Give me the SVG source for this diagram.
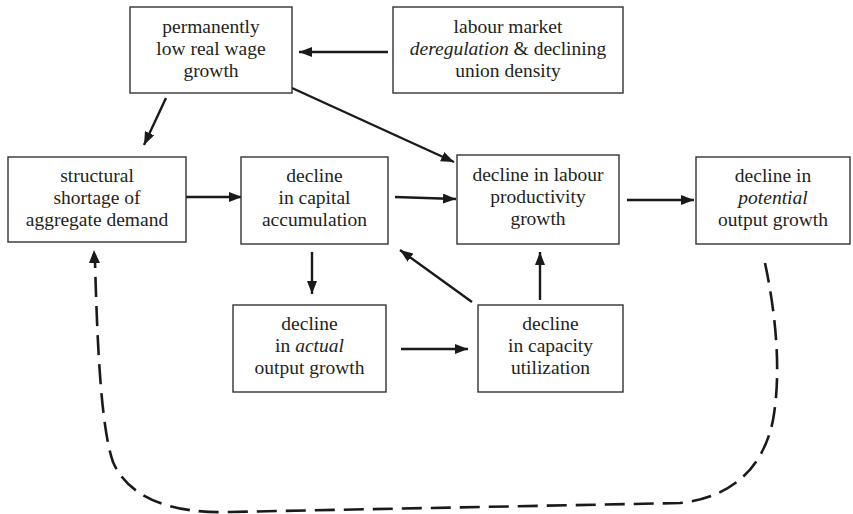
<svg xmlns="http://www.w3.org/2000/svg" width="853" height="514" viewBox="0 0 853 514">
<style>
  .box { fill: #fff; stroke: #333; stroke-width: 1.4; }
  .t { font-family: "Liberation Serif", "Times New Roman", serif; font-size: 19.5px; fill: #231f20; text-anchor: middle; }
  .i { font-style: italic; }
  .c { stroke: #1a1a1a; stroke-width: 2.4; fill: none; marker-end: url(#ah); }
  .d { stroke: #1a1a1a; stroke-width: 2.6; fill: none; stroke-dasharray: 20 9; }
</style>
<defs>
  <marker id="ah" markerUnits="userSpaceOnUse" markerWidth="14" markerHeight="12" refX="13" refY="5" orient="auto">
    <path d="M0,0 L13,5 L0,10 Z" fill="#1a1a1a"/>
  </marker>
</defs>
<rect width="853" height="514" fill="#fff"/>
<g id="connectors">
  <line class="c" x1="388" y1="52" x2="299" y2="52"/>
  <line class="c" x1="166" y1="98" x2="144" y2="145"/>
  <line class="c" x1="292" y1="88" x2="454" y2="162"/>
  <line class="c" x1="183" y1="197" x2="242" y2="197"/>
  <line class="c" x1="395" y1="197" x2="456" y2="199"/>
  <line class="c" x1="627" y1="200" x2="694" y2="200"/>
  <line class="c" x1="312" y1="252" x2="312" y2="294"/>
  <line class="c" x1="401" y1="349" x2="468" y2="349"/>
  <line class="c" x1="472" y1="302" x2="400" y2="250"/>
  <line class="c" x1="540" y1="300" x2="540" y2="252"/>
  <path class="d" d="M765,263 C775,310 782,370 773,420 C764,465 735,497 680,503 L230,512 C170,514 128,497 113,462 C100,425 97,330 95,262"/>
  <path d="M89,263 L94,250 L100,263 Z" fill="#1a1a1a"/>
</g>
<g id="n1">
  <rect class="box" x="130" y="7" width="162" height="86"/>
  <text class="t" x="211" y="33">permanently</text>
  <text class="t" x="211" y="55">low real wage</text>
  <text class="t" x="211" y="77">growth</text>
</g>
<g id="n2">
  <rect class="box" x="393" y="7" width="230" height="86"/>
  <text class="t" x="508" y="33">labour market</text>
  <text class="t" x="508" y="55"><tspan class="i">deregulation</tspan> &amp; declining</text>
  <text class="t" x="508" y="77">union density</text>
</g>
<g id="n3">
  <rect class="box" x="8" y="157" width="178" height="85"/>
  <text class="t" x="97" y="182">structural</text>
  <text class="t" x="97" y="204">shortage of</text>
  <text class="t" x="97" y="226">aggregate demand</text>
</g>
<g id="n4">
  <rect class="box" x="241" y="157" width="147" height="87"/>
  <text class="t" x="314.5" y="182">decline</text>
  <text class="t" x="314.5" y="204">in capital</text>
  <text class="t" x="314.5" y="226">accumulation</text>
</g>
<g id="n5">
  <rect class="box" x="457" y="155" width="162" height="89"/>
  <text class="t" x="538" y="181">decline in labour</text>
  <text class="t" x="538" y="203">productivity</text>
  <text class="t" x="538" y="225">growth</text>
</g>
<g id="n6">
  <rect class="box" x="696" y="157" width="154" height="87"/>
  <text class="t" x="773" y="182">decline in</text>
  <text class="t i" x="773" y="204">potential</text>
  <text class="t" x="773" y="226">output growth</text>
</g>
<g id="n7">
  <rect class="box" x="233" y="305" width="153" height="87"/>
  <text class="t" x="309.5" y="330">decline</text>
  <text class="t" x="309.5" y="352">in <tspan class="i">actual</tspan></text>
  <text class="t" x="309.5" y="374">output growth</text>
</g>
<g id="n8">
  <rect class="box" x="478" y="305" width="145" height="87"/>
  <text class="t" x="550.5" y="330">decline</text>
  <text class="t" x="550.5" y="352">in capacity</text>
  <text class="t" x="550.5" y="374">utilization</text>
</g>
</svg>
